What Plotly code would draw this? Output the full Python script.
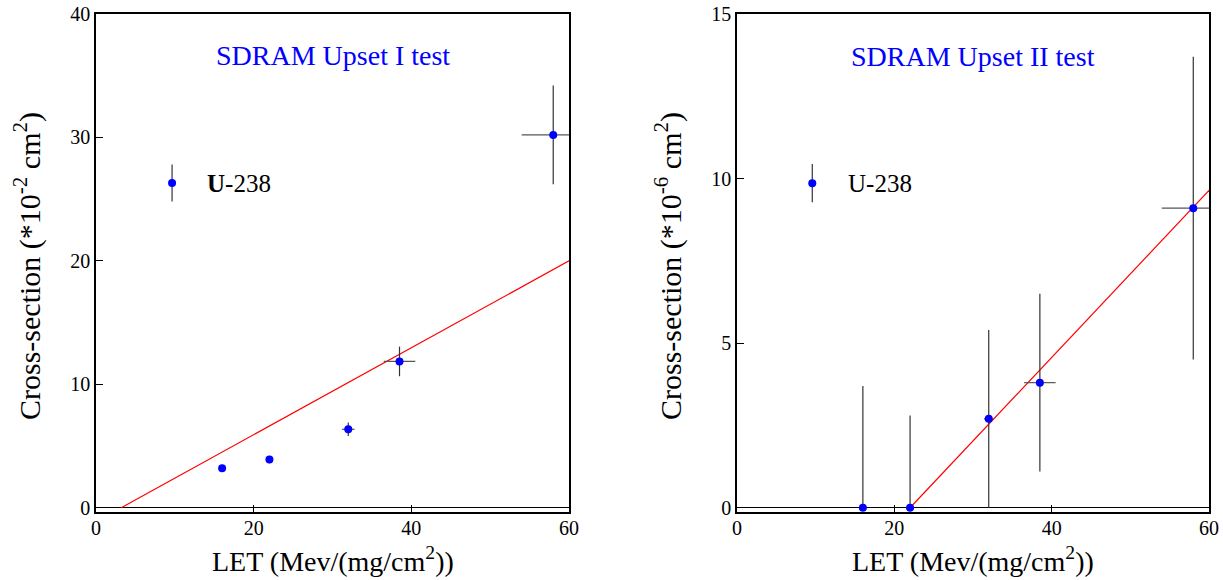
import plotly.graph_objects as go

# ---------------- data ----------------
let_vals = [16, 22, 32, 38.5, 58]

# Upset I (x 1e-2 cm^2)
sig1 = [3.2, 3.9, 6.35, 11.85, 30.2]
sig1_err = [0.0, 0.3, 0.55, 1.2, 4.0]
let1_err = [0.0, 0.0, 0.8, 2.0, 4.0]
fit1_x = [3.2, 60]
fit1_y = [0.0, 20.0]

# Upset II (x 1e-6 cm^2)
sig2 = [0.0, 0.0, 2.7, 3.8, 9.1]
sig2_err_plus = [3.7, 2.8, 2.7, 2.7, 4.6]
sig2_err_minus = [0.0, 0.0, 2.7, 2.7, 4.6]
let2_err = [0.0, 0.0, 0.6, 2.0, 4.0]
fit2_x = [22, 60]
fit2_y = [0.0, 9.64]

# legend-like key markers
key1 = dict(x=9.65, y=26.3, err=1.5)
key2 = dict(x=9.57, y=9.86, err=0.58)

titles = ["SDRAM Upset I test", "SDRAM Upset II test"]
ytitles = ["Cross-section (*10<sup>-2</sup> cm<sup>2</sup>)",
           "Cross-section (*10<sup>-6</sup> cm<sup>2</sup>)"]
xtitle = "LET (Mev/(mg/cm<sup>2</sup>))"

FONT = "Liberation Serif, Times New Roman, serif"
W, H = 1223, 580

fig = go.Figure()

# ---- left panel ----
fig.add_trace(go.Scatter(x=fit1_x, y=fit1_y, mode="lines",
                         line=dict(color="red", width=1.2),
                         xaxis="x", yaxis="y", showlegend=False))
fig.add_trace(go.Scatter(
    x=let_vals, y=sig1, mode="markers",
    marker=dict(color="blue", size=8),
    error_y=dict(type="data", array=sig1_err, color="#333", thickness=1.2, width=0),
    error_x=dict(type="data", array=let1_err, color="#555", thickness=1.2, width=0),
    xaxis="x", yaxis="y", showlegend=False))
fig.add_trace(go.Scatter(
    x=[key1["x"]], y=[key1["y"]], mode="markers",
    marker=dict(color="blue", size=8),
    error_y=dict(type="data", array=[key1["err"]], color="#333", thickness=1.2, width=0),
    xaxis="x", yaxis="y", showlegend=False))

# ---- right panel ----
fig.add_trace(go.Scatter(x=fit2_x, y=fit2_y, mode="lines",
                         line=dict(color="red", width=1.2),
                         xaxis="x2", yaxis="y2", showlegend=False))
fig.add_trace(go.Scatter(
    x=let_vals, y=sig2, mode="markers",
    marker=dict(color="blue", size=8),
    error_y=dict(type="data", symmetric=False, array=sig2_err_plus,
                 arrayminus=sig2_err_minus, color="#333", thickness=1.2, width=0),
    error_x=dict(type="data", array=let2_err, color="#555", thickness=1.2, width=0),
    xaxis="x2", yaxis="y2", showlegend=False))
fig.add_trace(go.Scatter(
    x=[key2["x"]], y=[key2["y"]], mode="markers",
    marker=dict(color="blue", size=8),
    error_y=dict(type="data", array=[key2["err"]], color="#333", thickness=1.2, width=0),
    xaxis="x2", yaxis="y2", showlegend=False))

# domains in pixels
lx0, lx1 = 96, 569
rx0, rx1 = 737, 1209
yt, yb = 14, 512
dom_y = [1 - yb / H, 1 - yt / H]

axis_common = dict(showline=True, linecolor="black", linewidth=1.5, mirror=True,
                   ticks="inside", ticklen=7, tickwidth=1, tickcolor="black",
                   showgrid=False, zeroline=True, zerolinecolor="black",
                   zerolinewidth=1, automargin=False,
                   tickfont=dict(family=FONT, size=20, color="black"))
xaxis_extra = dict(ticklabelstandoff=-3)

fig.update_layout(
    width=W, height=H,
    margin=dict(l=0, r=0, t=0, b=0),
    paper_bgcolor="white", plot_bgcolor="white",
    font=dict(family=FONT, color="black"),
    xaxis=dict(domain=[lx0 / W, lx1 / W], range=[0, 60], tickvals=[0, 20, 40, 60],
               anchor="y", **axis_common, **xaxis_extra),
    yaxis=dict(domain=dom_y, range=[-0.35, 40], tickvals=[0, 10, 20, 30, 40],
               anchor="x", **axis_common),
    xaxis2=dict(domain=[rx0 / W, rx1 / W], range=[0, 60], tickvals=[0, 20, 40, 60],
                anchor="y2", **axis_common, **xaxis_extra),
    yaxis2=dict(domain=dom_y, range=[-0.13, 15], tickvals=[0, 5, 10, 15],
                anchor="x2", **axis_common),
)

ann = []
# panel titles
ann.append(dict(x=30, y=36.6, xref="x", yref="y", text=titles[0], showarrow=False,
                font=dict(family=FONT, size=28, color="blue")))
ann.append(dict(x=30, y=13.71, xref="x2", yref="y2", text=titles[1], showarrow=False,
                font=dict(family=FONT, size=28, color="blue")))
# key labels
ann.append(dict(x=13.8, y=key1["y"], xref="x", yref="y", text="<b>U</b>-238",
                showarrow=False, xanchor="left",
                font=dict(family=FONT, size=25, color="black")))
ann.append(dict(x=13.8, y=key2["y"], xref="x2", yref="y2", text="U-238",
                showarrow=False, xanchor="left",
                font=dict(family=FONT, size=25, color="black")))
# axis titles
for cx, yt_text in [(28, ytitles[0]), (669, ytitles[1])]:
    ann.append(dict(x=cx / W, y=1 - 266 / H, xref="paper", yref="paper", text=yt_text,
                    textangle=-90, showarrow=False, xanchor="center", yanchor="middle",
                    font=dict(family=FONT, size=30, color="black")))
for cx in [(lx0 + lx1) / 2, (rx0 + rx1) / 2]:
    ann.append(dict(x=cx / W, y=1 - 559 / H, xref="paper", yref="paper", text=xtitle,
                    showarrow=False, xanchor="center", yanchor="middle",
                    font=dict(family=FONT, size=28, color="black")))
fig.update_layout(annotations=ann)

fig.write_html("out.html", config={"displayModeBar": False},
               post_script="document.body.style.margin='0';document.body.style.padding='0';")
